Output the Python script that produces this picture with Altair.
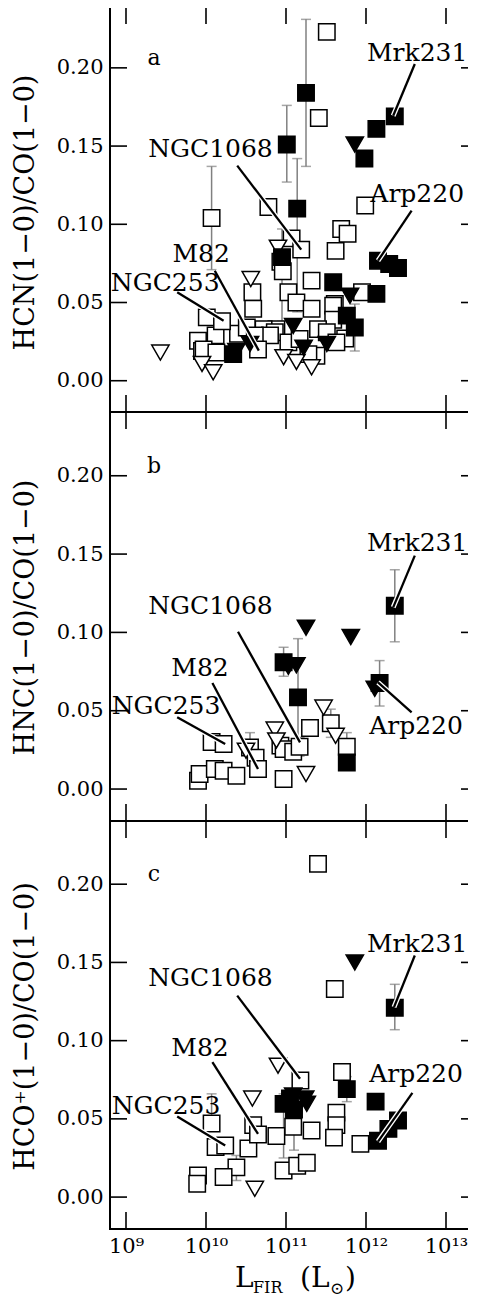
import altair as alt
import pandas as pd

FONT = "DejaVu Serif"

# ---------------- data (x values are log10 L_FIR) ----------------
# panel a: HCN/CO
a_os_x = [11.51, 11.41, 10.07, 10.78, 11.99, 11.69, 11.77, 11.62, 11.07, 10.93, 10.96, 11.32, 10.58, 10.59,
          11.03, 11.13, 11.32, 11.61, 11.95, 11.59, 11.59, 11.74, 11.40, 11.51, 11.38, 11.28, 11.63, 10.88,
          10.72, 10.86, 11.03, 11.17, 10.80, 10.01, 10.12, 9.90, 9.95, 9.97, 10.40, 10.51, 10.61, 10.65,
          10.13, 10.20, 11.19]
a_os_y = [0.223, 0.168, 0.104, 0.111, 0.112, 0.097, 0.094, 0.083, 0.091, 0.076, 0.070, 0.064, 0.0565, 0.046,
          0.0565, 0.050, 0.046, 0.049, 0.0565, 0.048, 0.039, 0.027, 0.033, 0.031, 0.016, 0.017, 0.0245, 0.033,
          0.033, 0.031, 0.0245, 0.0267, 0.029, 0.0405, 0.029, 0.0256, 0.019, 0.020, 0.030, 0.034, 0.029, 0.020,
          0.018, 0.038, 0.0838]
a_ot_x = [10.90, 10.56, 10.97, 11.13, 11.32, 9.43, 9.95, 10.09]
a_ot_y = [0.085, 0.065, 0.015, 0.012, 0.0086, 0.018, 0.0107, 0.0054]
a_ft_x = [11.86, 11.80, 11.09, 11.22, 11.51, 10.38, 10.55]
a_ft_y = [0.151, 0.0543, 0.035, 0.021, 0.0235, 0.019, 0.0235]
a_fs_x = [11.25, 11.01, 11.14, 10.95, 11.59, 12.13, 11.76, 11.86, 10.34, 12.36, 12.13, 11.98, 12.15, 12.29, 12.40]
a_fs_y = [0.184, 0.151, 0.110, 0.079, 0.063, 0.0555, 0.0416, 0.034, 0.017, 0.169, 0.161, 0.142, 0.0767, 0.0746, 0.072]
a_err_x = [10.07, 11.25, 11.01, 11.14, 10.95, 11.86]
a_err_lo = [0.071, 0.137, 0.127, 0.044, 0.038, 0.019]
a_err_hi = [0.137, 0.231, 0.176, 0.142, 0.097, 0.049]

# panel b: HNC/CO
b_os_x = [11.30, 11.56, 10.93, 10.97, 11.09, 10.97, 11.76, 10.07, 9.90, 9.92, 10.11, 10.22, 10.38, 10.55,
          10.62, 10.22, 10.65, 11.17]
b_os_y = [0.039, 0.042, 0.0277, 0.0255, 0.0238, 0.0064, 0.027, 0.030, 0.0053, 0.0096, 0.0128, 0.0117, 0.0085,
          0.0265, 0.020, 0.0287, 0.0128, 0.027]
b_ot_x = [10.86, 11.47, 11.62, 11.25, 10.50, 10.88]
b_ot_y = [0.038, 0.052, 0.034, 0.0096, 0.0245, 0.031]
b_ft_x = [11.25, 11.81, 11.03, 11.13, 12.11]
b_ft_y = [0.103, 0.097, 0.078, 0.079, 0.064]
b_fs_x = [12.36, 12.17, 10.97, 11.15, 11.76]
b_fs_y = [0.117, 0.0677, 0.081, 0.0585, 0.017]
b_err_x = [12.36, 12.17, 10.97, 11.15, 11.76, 10.55, 11.17, 11.56]
b_err_lo = [0.094, 0.053, 0.072, 0.022, 0.012, 0.020, 0.021, 0.033]
b_err_hi = [0.140, 0.082, 0.0905, 0.096, 0.036, 0.036, 0.033, 0.051]

# panel c: HCO+/CO
c_os_x = [11.40, 11.61, 11.70, 11.63, 11.63, 11.60, 11.93, 10.07, 10.12, 10.53, 10.59, 10.88, 11.09, 11.32,
          10.38, 10.22, 9.90, 9.89, 10.97, 11.14, 11.26, 10.24, 10.65, 11.18]
c_os_y = [0.213, 0.133, 0.080, 0.054, 0.046, 0.038, 0.034, 0.047, 0.032, 0.031, 0.046, 0.039, 0.045, 0.0426,
          0.019, 0.0128, 0.0138, 0.0085, 0.017, 0.020, 0.022, 0.033, 0.040, 0.0745]
c_ot_x = [10.90, 10.58, 10.61]
c_ot_y = [0.084, 0.063, 0.0053]
c_ft_x = [11.86, 11.09, 11.13, 11.24, 11.26]
c_ft_y = [0.150, 0.065, 0.056, 0.063, 0.0596]
c_fs_x = [12.36, 11.76, 12.12, 12.40, 12.28, 12.15, 10.97, 11.05, 11.10]
c_fs_y = [0.121, 0.069, 0.061, 0.049, 0.0436, 0.036, 0.0596, 0.063, 0.056]
c_err_x = [12.36, 11.76, 10.07, 10.38, 10.97, 11.10]
c_err_lo = [0.107, 0.061, 0.047, 0.0106, 0.025, 0.030]
c_err_hi = [0.136, 0.077, 0.066, 0.0266, 0.066, 0.066]

# annotations
names = ["Mrk231", "NGC1068", "Arp220", "M82", "NGC253"]
a_lab_x = [12.64, 10.056, 12.64, 9.94, 9.49]
a_lab_y = [0.2044, 0.1430, 0.1143, 0.0759, 0.0574]
a_l1x = [12.61, 10.39, 12.57, 10.11, 9.64]
a_l1y = [0.2025, 0.1375, 0.1087, 0.0703, 0.0565]
a_l2x = [12.34, 11.19, 12.15, 10.66, 10.22]
a_l2y = [0.1694, 0.0838, 0.0767, 0.0192, 0.0384]

b_lab_x = [12.64, 10.056, 12.625, 9.925, 9.5]
b_lab_y = [0.152, 0.1118, 0.0351, 0.0722, 0.0479]
b_l1x = [12.61, 10.40, 12.57, 10.08, 9.64]
b_l1y = [0.149, 0.1004, 0.049, 0.0677, 0.0458]
b_l2x = [12.34, 11.175, 12.15, 10.65, 10.24]
b_l2y = [0.116, 0.0298, 0.0681, 0.0128, 0.0287]

c_lab_x = [12.64, 10.056, 12.625, 9.925, 9.5]
c_lab_y = [0.1567, 0.135, 0.0737, 0.0903, 0.0533]
c_l1x = [12.61, 10.39, 12.58, 10.08, 9.64]
c_l1y = [0.1544, 0.1288, 0.0666, 0.0863, 0.0515]
c_l2x = [12.35, 11.175, 12.15, 10.65, 10.24]
c_l2y = [0.1214, 0.0756, 0.0355, 0.0404, 0.033]

letters = ["a", "b", "c"]
letter_x = 9.35
letter_y = 0.202

ytitles = ["HCN(1\u22120)/CO(1\u22120)", "HNC(1\u22120)/CO(1\u22120)", "HCO\u207a(1\u22120)/CO(1\u22120)"]

x_tick_exp = [9, 10, 11, 12, 13]
x_tick_labels = ["10\u2079", "10\u00b9\u2070", "10\u00b9\u00b9", "10\u00b9\u00b2", "10\u00b9\u00b3"]
y_ticks = [0.0, 0.05, 0.10, 0.15, 0.20]

# x title pieces: L_FIR (L_sun)
xt_text = ["L", "FIR", "(L", "\u2299", ")"]
xt_size = [28, 16, 28, 17, 28]

# ---------------- layout ----------------
W = 368
XDOM = [10 ** 8.8, 10 ** 13.4]
heights = [405, 409, 408]
ydoms = [[-0.0200, 0.2389], [-0.0204, 0.2407], [-0.0204, 0.2404]]
TICK = 17

label_expr = ""
for e, lab in zip(x_tick_exp, x_tick_labels):
    label_expr += f"datum.value < {3 * 10 ** e:.0f} ? '{lab}' : "
label_expr += "''"


def points_df(os_x, os_y, ot_x, ot_y, ft_x, ft_y, fs_x, fs_y):
    rows = []
    for xs, ys, shp, fill, sz in [(os_x, os_y, "square", "white", 270),
                                  (ot_x, ot_y, "triangle-down", "white", 300),
                                  (ft_x, ft_y, "triangle-down", "black", 300),
                                  (fs_x, fs_y, "square", "black", 270)]:
        for x, y in zip(xs, ys):
            rows.append(dict(L=10 ** x, v=y, shp=shp, fill=fill, sz=sz))
    return pd.DataFrame(rows)


def panel(pdf, ex, elo, ehi, lx, ly, l1x, l1y, l2x, l2y, ytitle, letter, H, ydom, bottom):
    xs = alt.Scale(type="log", domain=XDOM, nice=False)
    ys = alt.Scale(domain=ydom, nice=False, zero=False)
    if bottom:
        xaxis = alt.Axis(values=[10 ** e for e in x_tick_exp], labelExpr=label_expr, ticks=False, tickSize=0,
                         domain=False, grid=False, labelFont=FONT, labelFontSize=21, labelPadding=6,
                         labelColor="black", labelFlush=False, labelOverlap=False, title=None)
    else:
        xaxis = None
    yaxis = alt.Axis(values=y_ticks, format=".2f", ticks=False, tickSize=0, domain=False, grid=False,
                     labelFont=FONT, labelFontSize=21, labelPadding=7, labelColor="black",
                     title=ytitle, titleFont=FONT, titleFontSize=27, titleFontWeight="normal",
                     titleColor="black", titleX=-77, titleY=205, titleBaseline="alphabetic")

    def X(f):
        return alt.X(f, scale=xs, axis=xaxis)

    def Y(f):
        return alt.Y(f, scale=ys, axis=yaxis)

    edf = pd.DataFrame({"L": [10 ** x for x in ex], "lo": elo, "hi": ehi})
    bars = alt.Chart(edf).mark_rule(color="#808080", strokeWidth=1.5).encode(
        x=X("L:Q"), y=Y("lo:Q"), y2="hi:Q")
    caps = alt.Chart(edf).transform_fold(["lo", "hi"], as_=["k", "cv"]).mark_tick(
        orient="horizontal", size=10, thickness=1.5, color="#808080").encode(
        x=X("L:Q"), y=Y("cv:Q"))
    pts = alt.Chart(pdf).mark_point(filled=True, stroke="black", strokeWidth=1.5, opacity=1).encode(
        x=X("L:Q"), y=Y("v:Q"),
        shape=alt.Shape("shp:N", scale=None),
        fill=alt.Fill("fill:N", scale=None),
        size=alt.Size("sz:Q", scale=None))

    adf = pd.DataFrame({"name": names,
                        "tx": [10 ** x for x in lx], "ty": ly,
                        "x1": [10 ** x for x in l1x], "y1": l1y,
                        "x2": [10 ** x for x in l2x], "y2": l2y})
    halo = alt.Chart(adf).mark_rule(color="white", strokeWidth=5).encode(
        x=X("x1:Q"), x2="x2:Q", y=Y("y1:Q"), y2="y2:Q")
    lines = alt.Chart(adf).mark_rule(color="black", strokeWidth=2.3).encode(
        x=X("x1:Q"), x2="x2:Q", y=Y("y1:Q"), y2="y2:Q")
    texts = alt.Chart(adf).mark_text(font=FONT, fontSize=25, align="center", baseline="alphabetic",
                                     color="black").encode(
        x=X("tx:Q"), y=Y("ty:Q"), text="name:N")
    let = alt.Chart(pd.DataFrame({"t": [letter], "x": [10 ** letter_x], "y": [letter_y]})).mark_text(
        font=FONT, fontSize=22, align="center", baseline="alphabetic", color="black").encode(
        x=X("x:Q"), y=Y("y:Q"), text="t:N")

    ydf = pd.DataFrame({"v": y_ticks})
    xdf = pd.DataFrame({"L": [10 ** e for e in x_tick_exp]})
    tl = alt.Chart(ydf).mark_rule(color="black", strokeWidth=1.6).encode(
        y=Y("v:Q"), x=alt.value(0), x2=alt.value(TICK))
    tr = alt.Chart(ydf).mark_rule(color="black", strokeWidth=1.6).encode(
        y=Y("v:Q"), x=alt.value(W - TICK), x2=alt.value(W))
    tb = alt.Chart(xdf).mark_rule(color="black", strokeWidth=1.6).encode(
        x=X("L:Q"), y=alt.value(H), y2=alt.value(H - TICK))
    tt = alt.Chart(xdf).mark_rule(color="black", strokeWidth=1.6).encode(
        x=X("L:Q"), y=alt.value(0), y2=alt.value(TICK))

    layers = [bars, caps, pts, halo, lines, texts, let, tl, tr, tb, tt]

    if bottom:
        xpos = [125, 143, 190, 220, 235]
        ypos = [H + 58, H + 64, H + 58, H + 65, H + 58]
        one = pd.DataFrame({"k": [0]})
        for t, s, px, py in zip(xt_text, xt_size, xpos, ypos):
            layers.append(alt.Chart(one).mark_text(font=FONT, fontSize=s, align="left",
                                                   baseline="alphabetic", color="black").encode(
                x=alt.value(px), y=alt.value(py), text=alt.value(t)))

    return alt.layer(*layers).properties(width=W, height=H)


pa = panel(points_df(a_os_x, a_os_y, a_ot_x, a_ot_y, a_ft_x, a_ft_y, a_fs_x, a_fs_y),
           a_err_x, a_err_lo, a_err_hi, a_lab_x, a_lab_y, a_l1x, a_l1y, a_l2x, a_l2y,
           ytitles[0], letters[0], heights[0], ydoms[0], False)
pb = panel(points_df(b_os_x, b_os_y, b_ot_x, b_ot_y, b_ft_x, b_ft_y, b_fs_x, b_fs_y),
           b_err_x, b_err_lo, b_err_hi, b_lab_x, b_lab_y, b_l1x, b_l1y, b_l2x, b_l2y,
           ytitles[1], letters[1], heights[1], ydoms[1], False)
pc = panel(points_df(c_os_x, c_os_y, c_ot_x, c_ot_y, c_ft_x, c_ft_y, c_fs_x, c_fs_y),
           c_err_x, c_err_lo, c_err_hi, c_lab_x, c_lab_y, c_l1x, c_l1y, c_l2x, c_l2y,
           ytitles[2], letters[2], heights[2], ydoms[2], True)

chart = alt.vconcat(pa, pb, pc, spacing=0, bounds="flush").properties(
    padding={"left": 2, "top": -3, "right": -12, "bottom": 0}, background="white"
).configure_view(stroke="black", strokeWidth=2)

chart.save("out.html", embed_options={"renderer": "svg", "actions": False})
